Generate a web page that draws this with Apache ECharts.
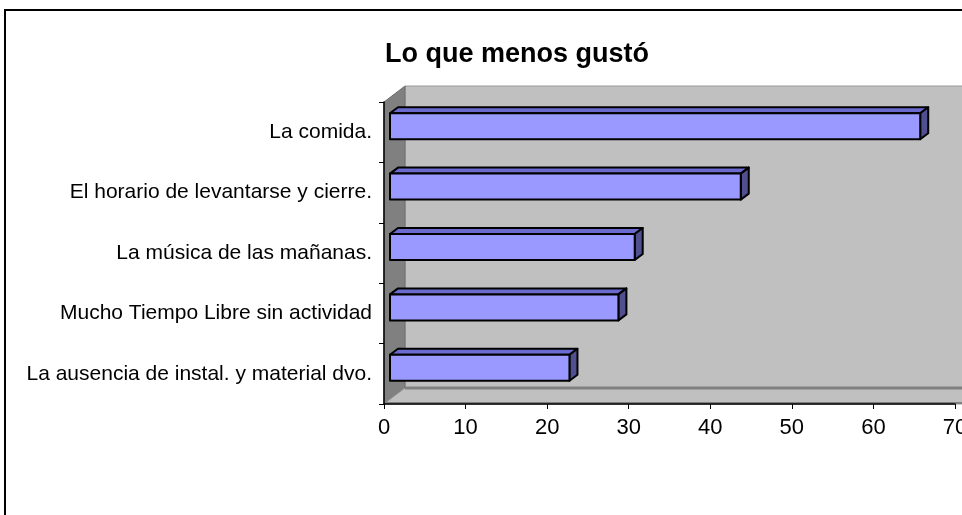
<!DOCTYPE html>
<html>
<head>
<meta charset="utf-8">
<script src="https://cdn.jsdelivr.net/npm/echarts@6/dist/echarts.min.js"></script>
<style>
html, body { margin: 0; padding: 0; background: #fff; }
#chart { width: 962px; height: 515px; }
</style>
</head>
<body>
<div id="chart"></div>
<script>
// datos del gráfico
var categorias = [
	'La comida.',
	'El horario de levantarse y cierre.',
	'La música de las mañanas.',
	'Mucho Tiempo Libre sin actividad',
	'La ausencia de instal. y material dvo.'
];
var valores = [65, 43, 30, 28, 22];
var ticksX = [0, 10, 20, 30, 40, 50, 60, 70];

// profundidad del efecto 3D
var DX = 21, DY = 16;

var chart = echarts.init(document.getElementById('chart'));

// paredes y suelo del grafico 3D
function dibujarParedes(params, api) {
	var r = params.coordSys;
	var x0 = r.x, y0 = r.y, x1 = r.x + r.width, y1 = r.y + r.height;
	return {
		type: 'group',
		children: [
			{ type: 'rect', shape: { x: x0 + DX, y: y0 - DY, width: r.width + 40, height: r.height },
				style: { fill: '#C0C0C0', stroke: '#9a9a9a', lineWidth: 1 } },
			{ type: 'polygon', shape: { points: [[x0, y0], [x0 + DX, y0 - DY], [x0 + DX, y1 - DY], [x0, y1]] },
				style: { fill: '#808080', stroke: '#6e6e6e', lineWidth: 1 } },
			{ type: 'polygon', shape: { points: [[x0, y1], [x0 + DX, y1 - DY], [x1 + DX + 40, y1 - DY], [x1 + 40, y1]] },
				style: { fill: '#C0C0C0', stroke: '#9a9a9a', lineWidth: 1 } },
			{ type: 'line', shape: { x1: x0 + DX, y1: y1 - DY, x2: x1 + 60, y2: y1 - DY },
				style: { stroke: '#808080', lineWidth: 3 } },
			{ type: 'line', shape: { x1: x0, y1: y1 - 1, x2: x1 + 20, y2: y1 - 1 },
				style: { stroke: '#808080', lineWidth: 2 } }
		]
	};
}

// barras con caras frontal, superior y lateral
function dibujarBarra(params, api) {
	var idx = api.value(0);
	var val = api.value(1);
	var ini = api.coord([0, idx]);
	var fin = api.coord([val, idx]);
	var banda = api.size([0, 1])[1];
	var alto = banda * 0.43;
	var ox = 6, oy = -6;
	var dx = 8, dy = 6;
	var xa = ini[0] + ox, xb = fin[0] + ox;
	var ya = ini[1] + oy - alto / 2, yb = ya + alto;
	var borde = { stroke: '#000', lineWidth: 2, lineJoin: 'round' };
	return {
		type: 'group',
		children: [
			{ type: 'polygon', shape: { points: [[xa, ya], [xa + dx, ya - dy], [xb + dx, ya - dy], [xb, ya]] },
				style: Object.assign({ fill: '#6B6BCF' }, borde) },
			{ type: 'polygon', shape: { points: [[xb, ya], [xb + dx, ya - dy], [xb + dx, yb - dy], [xb, yb]] },
				style: Object.assign({ fill: '#505090' }, borde) },
			{ type: 'rect', shape: { x: xa, y: ya, width: xb - xa, height: alto },
				style: Object.assign({ fill: '#9999FF' }, borde) }
		]
	};
}

var datosBarras = valores.map(function (v, i) { return [i, v]; });

var option = {
	animation: false,
	backgroundColor: '#fff',
	title: {
		text: 'Lo que menos gustó',
		left: 512,
		textAlign: 'center',
		top: 36,
		textStyle: { fontFamily: 'Liberation Sans', fontSize: 27, fontWeight: 'bold', color: '#000' }
	},
	graphic: [
		{ type: 'rect', z: 100, shape: { x: 5, y: 10, width: 1000, height: 600 },
			style: { fill: 'none', stroke: '#000', lineWidth: 2 } }
	],
	grid: {
		left: 384,
		right: 7,
		top: 102,
		bottom: 111,
		outerBoundsMode: 'none'
	},
	xAxis: {
		type: 'value',
		min: ticksX[0],
		max: ticksX[ticksX.length - 1],
		interval: 10,
		z: 10,
		axisLine: { show: true, lineStyle: { color: '#000', width: 1.5 } },
		axisTick: { show: true, length: 5, lineStyle: { color: '#000' } },
		splitLine: { show: false },
		axisLabel: { margin: 13, fontFamily: 'Liberation Sans', fontSize: 22, color: '#000' }
	},
	yAxis: {
		type: 'category',
		data: categorias,
		inverse: true,
		z: 10,
		axisLine: { show: true, lineStyle: { color: '#000', width: 1.5 } },
		axisTick: { show: true, length: 5, lineStyle: { color: '#000' } },
		axisLabel: { margin: 12, fontFamily: 'Liberation Sans', fontSize: 21, color: '#000' }
	},
	series: [
		{
			type: 'custom',
			z: 1,
			silent: true,
			data: [[0, 0]],
			renderItem: dibujarParedes
		},
		{
			type: 'custom',
			z: 3,
			data: datosBarras,
			encode: { x: 1, y: 0 },
			renderItem: dibujarBarra
		}
	]
};

chart.setOption(option);
</script>
</body>
</html>
